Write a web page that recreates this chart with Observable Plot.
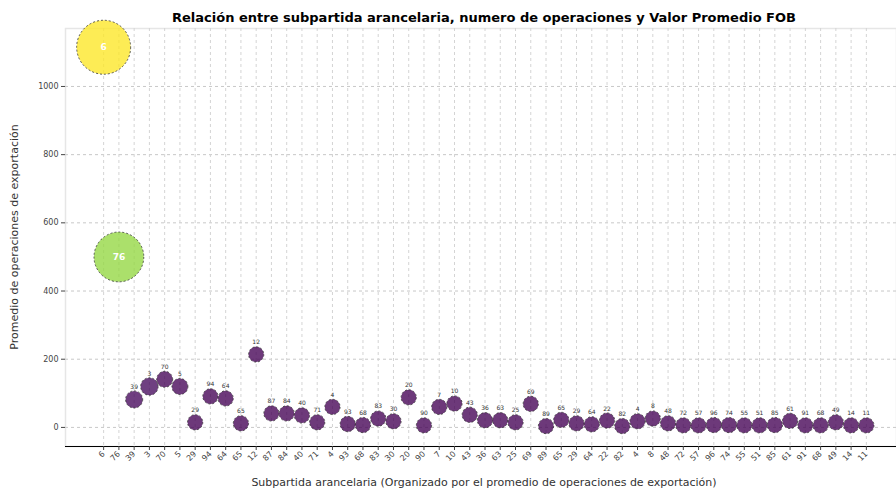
<!DOCTYPE html>
<html>
<head>
<meta charset="utf-8">
<script src="https://cdn.jsdelivr.net/npm/d3@7"></script>
<script src="https://cdn.jsdelivr.net/npm/@observablehq/plot@0.6"></script>
<style>
  html, body { margin: 0; padding: 0; background: #fff; overflow: hidden; }
  #chart svg { display: block; font-family: "DejaVu Sans", sans-serif; }
</style>
</head>
<body>
<div id="chart"></div>
<script>
// Subpartida labels (ordered as in the chart)
const subpartidas = ["6","76","39","3","70","5","29","94","64","65","12","87","84","40","71","4","93","68","83","30","20","90","7","10","43","36","63","25","69","89","65","29","64","22","82","4","8","48","72","57","96","74","55","51","85","61","91","68","49","14","11"];
// Promedio de operaciones de exportación
const operaciones = [1115, 500, 82, 120, 141, 120, 15, 91, 85, 12, 214, 41, 41, 35, 15, 60, 10, 7, 26, 18, 88, 6, 60, 70, 37, 21, 21, 15, 69, 4, 22, 12, 9, 20, 4, 18, 26, 12, 6, 6, 7, 7, 6, 6, 7, 19, 6, 6, 15, 6, 6];
// Valor Promedio FOB (relative, drives size and colour)
const valorFOB = [100, 85, 10, 10.5, 8.8, 8.8, 8, 8, 8, 8, 8, 8, 8, 8, 8, 8, 8, 8, 8, 8, 8, 8, 8, 8, 8, 8, 8, 8, 8, 8, 8, 8, 8, 8, 8, 8, 8, 8, 8, 8, 8, 8, 8, 8, 8, 8, 8, 8, 8, 8, 8];
const yTicks = [0, 200, 400, 600, 800, 1000];

const titulo = "Relación entre subpartida arancelaria, numero de operaciones y Valor Promedio FOB";
const etiquetaX = "Subpartida arancelaria (Organizado por el promedio de operaciones de exportación)";
const etiquetaY = "Promedio de operaciones de exportación";

const data = subpartidas.map((s, i) => ({i, sub: s, ops: operaciones[i], fob: valorFOB[i]}));
const idx = data.map(d => d.i);
const yDom = [-56, 1170];

const chart = Plot.plot({
  width: 896,
  height: 492,
  marginLeft: 65,
  marginRight: 0,
  marginTop: 28,
  marginBottom: 46,
  style: {fontFamily: "DejaVu Sans, sans-serif", background: "#fff", overflow: "visible"},
  x: {type: "linear", domain: [-2.5, 52.5], range: [65, 904]},
  y: {domain: yDom},
  r: {type: "sqrt", domain: [0, 100], range: [0, 27]},
  color: {type: "linear", scheme: "viridis", domain: [8, 100]},
  marks: [
    Plot.frame({stroke: "#e6e6e6", strokeWidth: 1.5}),
    Plot.gridY({ticks: yTicks, stroke: "#c8c8c8", strokeOpacity: 1, strokeDasharray: "3,3"}),
    Plot.gridX({ticks: idx, stroke: "#d4d4d4", strokeOpacity: 1, strokeDasharray: "3,3"}),
    Plot.ruleY([yDom[0]], {stroke: "#000", strokeWidth: 1}),
    Plot.axisY({ticks: yTicks, tickFormat: d3.format("d"), tickSize: 4, tickPadding: 3, fontSize: 8, color: "#444", label: null}),
    Plot.axisX({ticks: idx, tickFormat: i => subpartidas[i], tickRotate: -45, tickSize: 4, tickPadding: 2, fontSize: 8, color: "#444", label: null}),
    Plot.dot(data, {x: "i", y: "ops", r: "fob", fill: "fob", fillOpacity: 0.78, stroke: "#333", strokeWidth: 0.8, strokeDasharray: "2,2"}),
    Plot.text(data.filter(d => d.fob >= 50), {x: "i", y: "ops", text: "sub", fill: "#fff", fontSize: 9, fontWeight: "bold"}),
    Plot.text(data.filter(d => d.fob < 50), {x: "i", y: "ops", text: "sub", fill: "#333", fontSize: 6, dy: -12})
  ]
});
document.getElementById("chart").appendChild(chart);

const svg = d3.select(chart);
svg.append("text")
  .attr("x", 484).attr("y", 22)
  .attr("text-anchor", "middle")
  .attr("font-size", 13).attr("font-weight", "bold").attr("fill", "#000")
  .text(titulo);
svg.append("text")
  .attr("x", 484).attr("y", 486)
  .attr("text-anchor", "middle")
  .attr("font-size", 11).attr("fill", "#333")
  .text(etiquetaX);
svg.append("text")
  .attr("transform", "translate(18,237) rotate(-90)")
  .attr("text-anchor", "middle")
  .attr("font-size", 11).attr("fill", "#333")
  .text(etiquetaY);
</script>
</body>
</html>
